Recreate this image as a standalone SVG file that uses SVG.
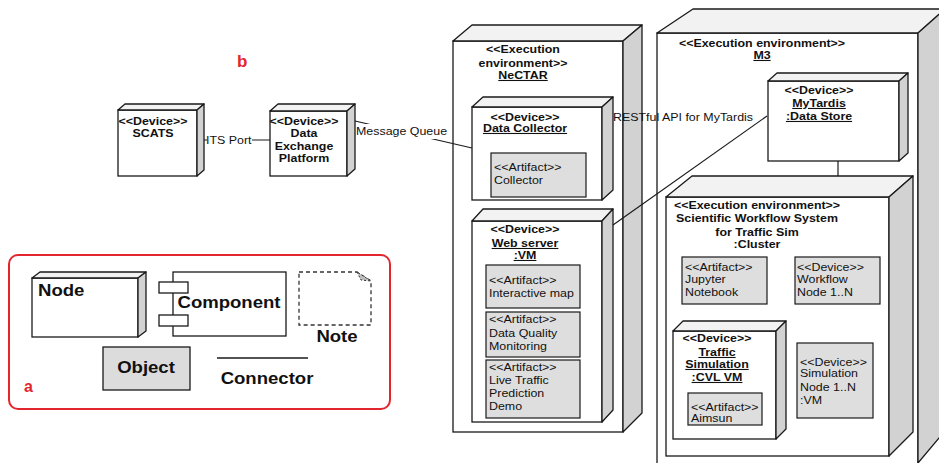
<svg xmlns="http://www.w3.org/2000/svg" width="939" height="463" viewBox="0 0 939 463">
  <style>
    .box{fill:#fff;stroke:#1a1a1a;stroke-width:1.3}
    .top{fill:#f2f2f2;stroke:#1a1a1a;stroke-width:1.3;stroke-linejoin:round}
    .side{fill:#d2d2d2;stroke:#1a1a1a;stroke-width:1.3;stroke-linejoin:round}
    .art{fill:#dedede;stroke:#1a1a1a;stroke-width:1.2}
    .wire{stroke:#1a1a1a;stroke-width:1.2;fill:none}
    text{font-family:"Liberation Sans",Arial,sans-serif;font-size:11px;fill:#111}
    .b{font-weight:bold}
    .c{text-anchor:middle}
    .u{text-decoration:underline}
    .lg{font-size:16px;font-weight:bold}
    .tag{fill:#e3262e;font-weight:bold}
  </style>
  <rect width="939" height="463" fill="#fff"/>

  <!-- panel labels -->
  <text class="tag" x="237" y="67" style="font-size:17px">b</text>

  <!-- legend -->
  <g id="legend">
    <rect x="9" y="255" width="381" height="154" rx="9" fill="none" stroke="#e3262e" stroke-width="2"/>
    <g id="legend-node">
      <rect class="box" x="32" y="278" width="106" height="59"/>
      <polygon class="top" points="32,278 40,272 146,272 138,278"/>
      <polygon class="side" points="138,278 146,272 146,331 138,337"/>
      <text class="lg" transform="translate(38,296) scale(1.16,1)">Node</text>
    </g>
    <g id="legend-component">
      <rect class="box" x="173" y="272" width="113" height="64"/>
      <rect class="box" x="159" y="282" width="29" height="11"/>
      <rect class="box" x="159" y="315" width="29" height="11"/>
      <text class="lg c" transform="translate(229,308) scale(1.16,1)">Component</text>
    </g>
    <g id="legend-note">
      <path d="M299,272 H357 L371,281 V325 H299 Z" fill="#fff" stroke="#333" stroke-width="1.3" stroke-dasharray="4,3"/>
      <path d="M357,272 L361,280 L371,281 Z" fill="#bdbdbd" stroke="#333" stroke-width="1" stroke-dasharray="2,2"/>
      <text class="lg c" transform="translate(337,342) scale(1.16,1)">Note</text>
    </g>
    <g id="legend-object">
      <rect x="103" y="347" width="87" height="43" fill="#dcdcdc" stroke="#1a1a1a" stroke-width="1.3"/>
      <text class="lg c" transform="translate(146,373) scale(1.16,1)">Object</text>
    </g>
    <g id="legend-connector">
      <line x1="217" y1="358" x2="308" y2="358" stroke="#1a1a1a" stroke-width="1.5"/>
      <text class="lg c" transform="translate(267,384) scale(1.16,1)">Connector</text>
    </g>
    <text class="tag" x="24" y="392" style="font-size:16px">a</text>
  </g>

  <!-- SCATS device -->
  <g id="scats">
    <rect class="box" x="118" y="110" width="79" height="66"/>
    <polygon class="top" points="118,110 125,104 204,104 197,110"/>
    <polygon class="side" points="197,110 204,104 204,170 197,176"/>
    <text class="b c" transform="translate(153,125) scale(1.13,1)"><tspan x="0" y="0">&lt;&lt;Device&gt;&gt;</tspan><tspan x="0" y="12">SCATS</tspan></text>
  </g>

  <!-- Data Exchange Platform device -->
  <g id="data-exchange-platform">
    <rect class="box" x="270" y="111" width="77" height="65"/>
    <polygon class="top" points="270,111 278,104 355,104 347,111"/>
    <polygon class="side" points="347,111 355,104 355,169 347,176"/>
    <text class="b c" transform="translate(304,125) scale(1.13,1)"><tspan x="0" y="0">&lt;&lt;Device&gt;&gt;</tspan><tspan x="0" y="12">Data</tspan><tspan x="0" y="25">Exchange</tspan><tspan x="0" y="37">Platform</tspan></text>
  </g>

  <!-- NeCTAR execution environment -->
  <g id="nectar">
    <rect class="box" x="453" y="41" width="170" height="391"/>
    <polygon class="top" points="453,41 472,25 642,25 623,41"/>
    <polygon class="side" points="623,41 642,25 642,413 623,432"/>
    <text class="b c" transform="translate(523,53) scale(1.13,1)"><tspan x="0" y="0">&lt;&lt;Execution</tspan><tspan x="0" y="14">environment&gt;&gt;</tspan><tspan x="0" y="26" class="u">NeCTAR</tspan></text>
  </g>

  <g id="data-collector">
    <rect class="box" x="472" y="107" width="130" height="93"/>
    <polygon class="top" points="472,107 483,97 613,97 602,107"/>
    <polygon class="side" points="602,107 613,97 613,190 602,200"/>
    <text class="b c" transform="translate(525,121) scale(1.13,1)"><tspan x="0" y="0">&lt;&lt;Device&gt;&gt;</tspan><tspan x="0" y="11" class="u">Data Collector</tspan></text>
  </g>
  <g id="collector-artifact">
    <rect class="art" x="491" y="153" width="95" height="44"/>
    <text transform="translate(494,171) scale(1.13,1)"><tspan x="0" y="0">&lt;&lt;Artifact&gt;&gt;</tspan><tspan x="0" y="13">Collector</tspan></text>
  </g>

  <g id="web-server">
    <rect class="box" x="472" y="221" width="130" height="201"/>
    <polygon class="top" points="472,221 483,209 613,209 602,221"/>
    <polygon class="side" points="602,221 613,209 613,410 602,422"/>
    <text class="b c" transform="translate(525,233) scale(1.13,1)"><tspan x="0" y="0">&lt;&lt;Device&gt;&gt;</tspan><tspan x="0" y="14" class="u">Web server</tspan><tspan x="0" y="26" class="u">:VM</tspan></text>
  </g>
  <g id="interactive-map">
    <rect class="art" x="486" y="265" width="94" height="43"/>
    <text transform="translate(489,284) scale(1.13,1)"><tspan x="0" y="0">&lt;&lt;Artifact&gt;&gt;</tspan><tspan x="0" y="13">Interactive map</tspan></text>
  </g>
  <g id="data-quality">
    <rect class="art" x="486" y="312" width="94" height="45"/>
    <text transform="translate(489,323) scale(1.13,1)"><tspan x="0" y="0">&lt;&lt;Artifact&gt;&gt;</tspan><tspan x="0" y="14">Data Quality</tspan><tspan x="0" y="27">Monitoring</tspan></text>
  </g>
  <g id="live-traffic">
    <rect class="art" x="486" y="360" width="94" height="58"/>
    <text transform="translate(489,371) scale(1.13,1)"><tspan x="0" y="0">&lt;&lt;Artifact&gt;&gt;</tspan><tspan x="0" y="13">Live Traffic</tspan><tspan x="0" y="26">Prediction</tspan><tspan x="0" y="39">Demo</tspan></text>
  </g>

  <!-- M3 execution environment -->
  <g id="m3">
    <rect class="box" x="657" y="33" width="261" height="440"/>
    <polygon class="top" points="657,33 693,9 945,9 918,33"/>
    <polygon class="side" points="918,33 945,9 945,431 918,463 918,473"/>
    <text class="b c" transform="translate(762,47) scale(1.13,1)"><tspan x="0" y="0">&lt;&lt;Execution environment&gt;&gt;</tspan><tspan x="0" y="12" class="u">M3</tspan></text>
  </g>

  <g id="mytardis">
    <rect class="box" x="768" y="81" width="131" height="80"/>
    <polygon class="top" points="768,81 777,73 908,73 899,81"/>
    <polygon class="side" points="899,81 908,73 908,153 899,161"/>
    <text class="b c" transform="translate(819,94) scale(1.13,1)"><tspan x="0" y="0">&lt;&lt;Device&gt;&gt;</tspan><tspan x="0" y="13" class="u">MyTardis</tspan><tspan x="0" y="26" class="u">:Data Store</tspan></text>
  </g>

  <!-- connectors -->
  <g id="connectors">
    <line class="wire" x1="204" y1="140" x2="270" y2="140"/>
    <rect x="207" y="132" width="45" height="15" fill="#fff"/>
    <text transform="translate(206,144) scale(1.13,1)">ITS Port</text>

    <line class="wire" x1="355" y1="121" x2="472" y2="148"/>
    <rect x="359" y="124" width="88" height="15" fill="#fff"/>
    <text transform="translate(356,135) scale(1.13,1)">Message Queue</text>

    <line class="wire" x1="613" y1="225" x2="767" y2="116"/>
    <text transform="translate(613,121) scale(1.13,1)">RESTful API for MyTardis</text>

    <line class="wire" x1="838" y1="161" x2="838" y2="177"/>
  </g>

  <!-- Scientific workflow cluster -->
  <g id="workflow-cluster">
    <rect class="box" x="666" y="197" width="223" height="259"/>
    <polygon class="top" points="666,197 692,176 913,176 889,197"/>
    <polygon class="side" points="889,197 913,176 913,432 889,456"/>
    <text class="b c" transform="translate(757,209) scale(1.13,1)"><tspan x="0" y="0">&lt;&lt;Execution environment&gt;&gt;</tspan><tspan x="0" y="13">Scientific Workflow System</tspan><tspan x="0" y="27">for Traffic Sim</tspan><tspan x="0" y="39">:Cluster</tspan></text>
  </g>
  <g id="jupyter">
    <rect class="art" x="682" y="257" width="85" height="47"/>
    <text transform="translate(685,271) scale(1.13,1)"><tspan x="0" y="0">&lt;&lt;Artifact&gt;&gt;</tspan><tspan x="0" y="12">Jupyter</tspan><tspan x="0" y="25">Notebook</tspan></text>
  </g>
  <g id="workflow-node">
    <rect class="art" x="795" y="257" width="85" height="47"/>
    <text transform="translate(797,271) scale(1.13,1)"><tspan x="0" y="0">&lt;&lt;Device&gt;&gt;</tspan><tspan x="0" y="12">Workflow</tspan><tspan x="0" y="25">Node 1..N</tspan></text>
  </g>
  <g id="traffic-simulation">
    <rect class="box" x="673" y="331" width="103" height="108"/>
    <polygon class="top" points="673,331 683,321 786,321 776,331"/>
    <polygon class="side" points="776,331 786,321 786,429 776,439"/>
    <text class="b c" transform="translate(717,342) scale(1.13,1)"><tspan x="0" y="0">&lt;&lt;Device&gt;&gt;</tspan><tspan x="0" y="14" class="u">Traffic</tspan><tspan x="0" y="26" class="u">Simulation</tspan><tspan x="0" y="39" class="u">:CVL VM</tspan></text>
  </g>
  <g id="aimsun">
    <rect class="art" x="688" y="393" width="74" height="32"/>
    <text transform="translate(691,411) scale(1.13,1)"><tspan x="0" y="0">&lt;&lt;Artifact&gt;&gt;</tspan><tspan x="0" y="11">Aimsun</tspan></text>
  </g>
  <g id="simulation-node">
    <rect class="art" x="797" y="343" width="76" height="75"/>
    <text transform="translate(800,366) scale(1.13,1)"><tspan x="0" y="0">&lt;&lt;Device&gt;&gt;</tspan><tspan x="0" y="11">Simulation</tspan><tspan x="0" y="25">Node 1..N</tspan><tspan x="0" y="38">:VM</tspan></text>
  </g>
</svg>
